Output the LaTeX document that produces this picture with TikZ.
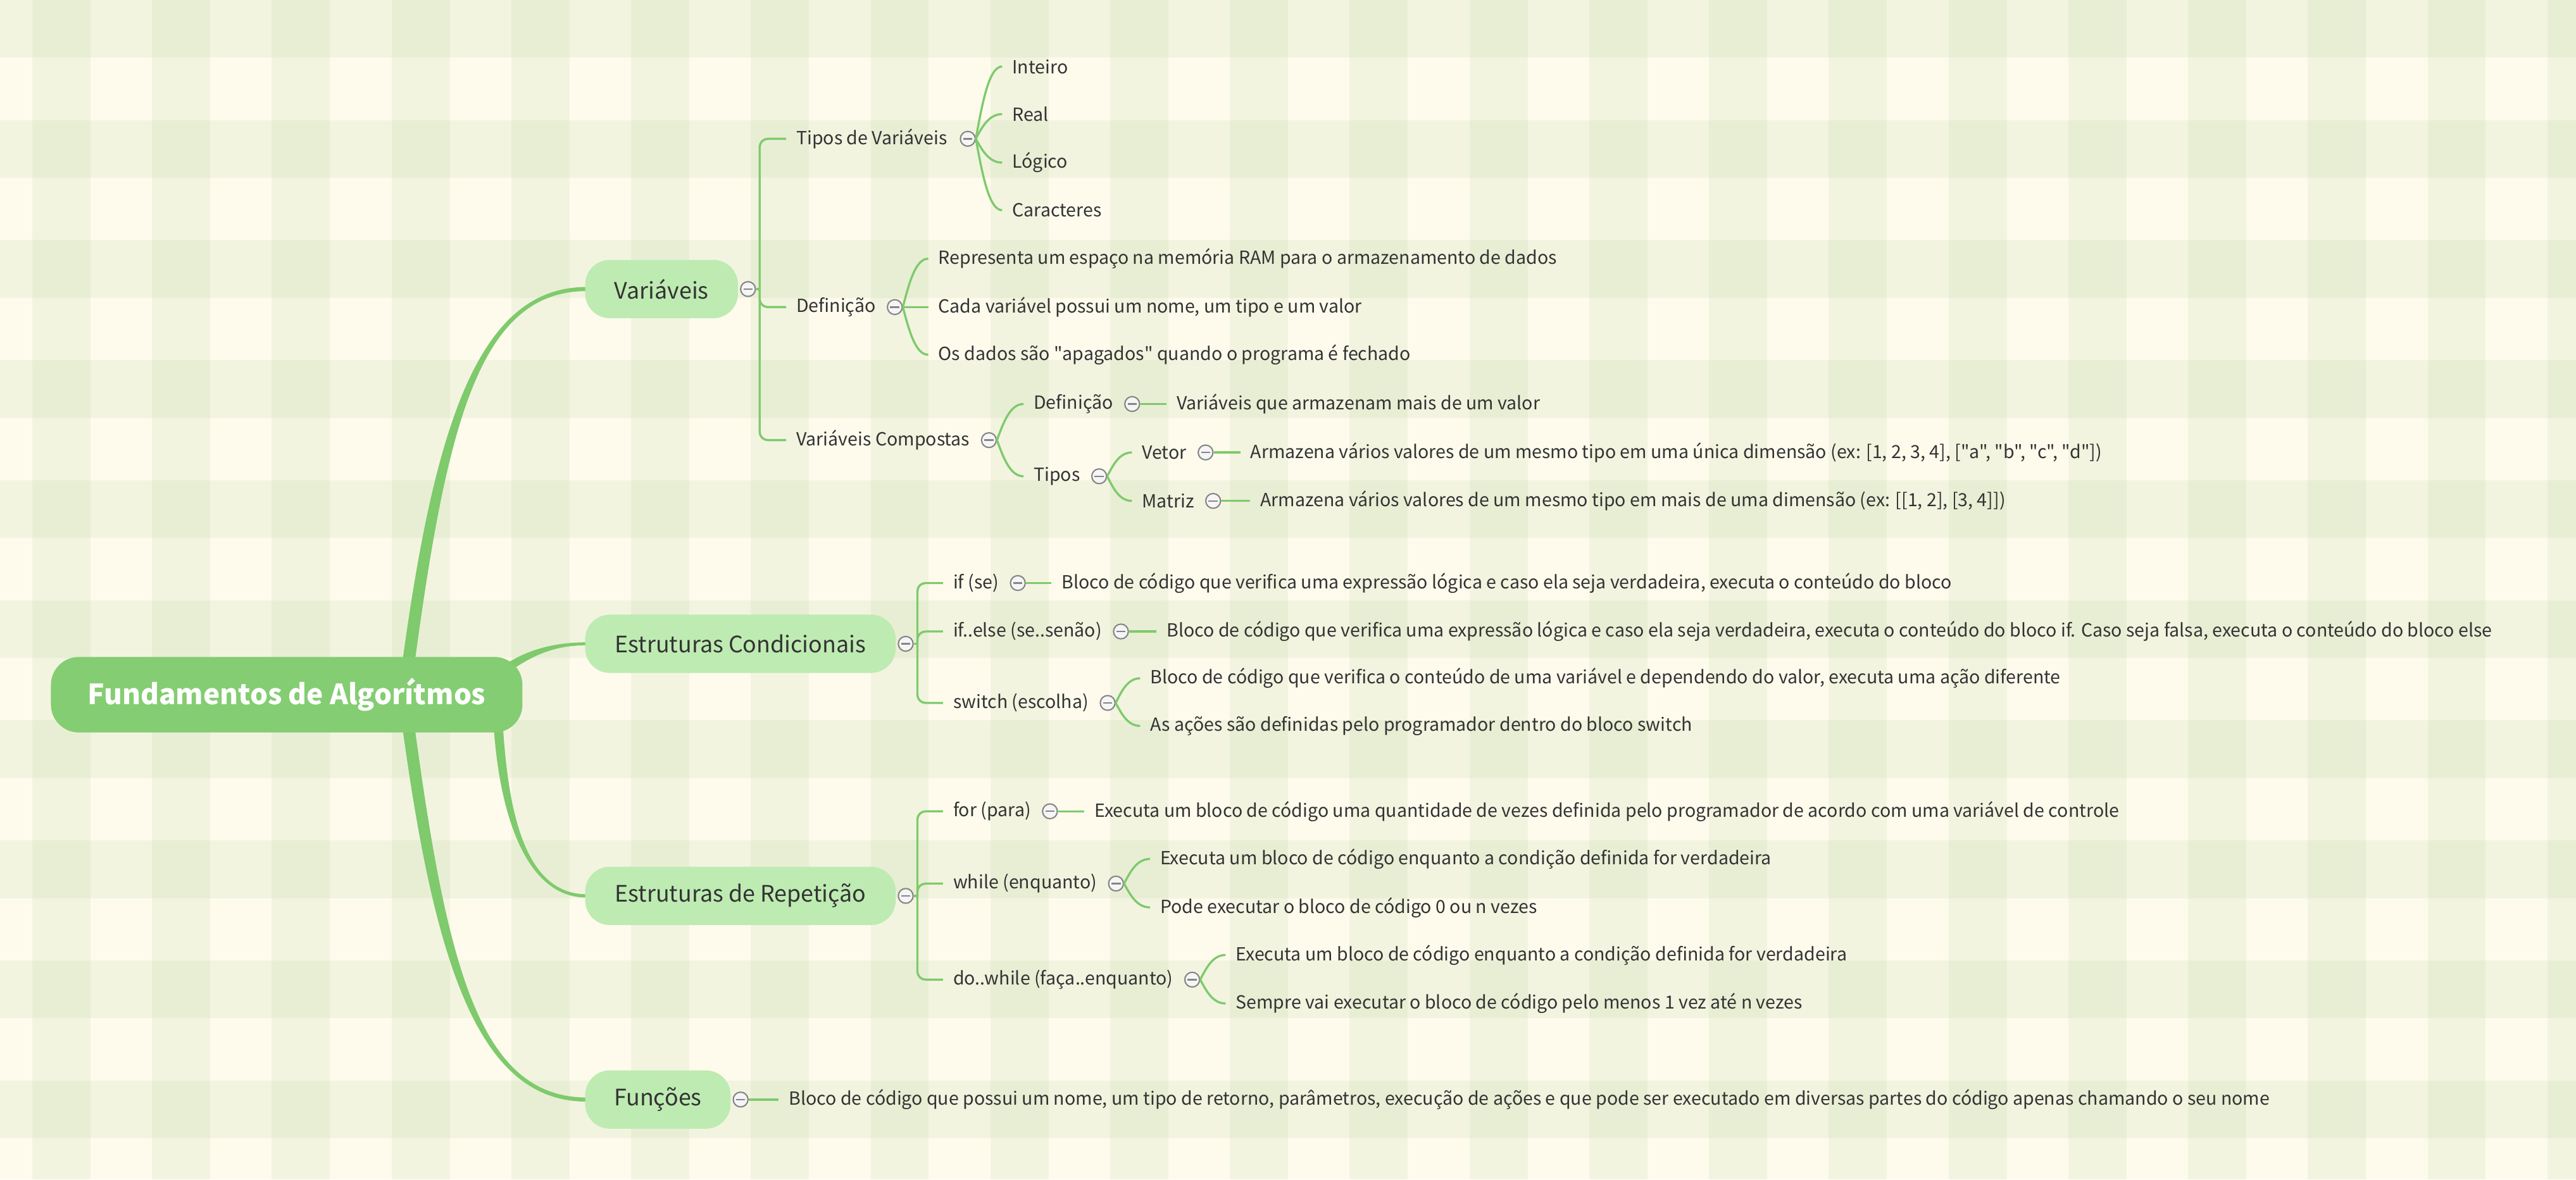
\documentclass[tikz,border=0pt]{standalone}
\usepackage{fontspec}
\setmainfont{Noto Sans CJK SC}[Ligatures=TeXOff]
\usetikzlibrary{calc}
\definecolor{cream}{HTML}{FEFBED}
\definecolor{stripe}{HTML}{90C070}
\definecolor{rootg}{HTML}{84CD72}
\definecolor{maing}{HTML}{BEEBB2}
\definecolor{lineg}{HTML}{7ECA6C}
\definecolor{txt}{HTML}{333333}
\definecolor{circg}{HTML}{858585}
\pgfdeclarelayer{back}
\pgfdeclarelayer{bg}
\pgfsetlayers{back,bg,main}
\newcommand{\taperbranch}[7]{%
 \fill[lineg] ($(#1)+(#5,#6)$) .. controls ($(#2)+(#5,#6)$) and ($(#3)+(0,#7)$) .. ($(#4)+(0,#7)$)
   -- ($(#4)-(0,#7)$) .. controls ($(#3)-(0,#7)$) and ($(#2)-(#5,#6)$) .. ($(#1)-(#5,#6)$) -- cycle;}
\begin{document}
\begin{tikzpicture}[x=1pt,y=-1pt,
  rootnode/.style={fill=rootg, rounded corners=17pt, minimum width=287pt, minimum height=46pt, text=white, font=\fontsize{17}{20}\selectfont\bfseries, inner sep=0pt},
  mainnode/.style={fill=maing, rounded corners=15pt, minimum height=35.5pt, text=txt, font=\fontsize{13.8}{16}\selectfont, inner sep=0pt, anchor=west},
  leaf/.style={anchor=west, text=txt, font=\fontsize{11}{13}\selectfont, inner xsep=6pt, inner ysep=1pt},
  circ/.style={circle, draw=circg, line width=0.8pt, fill=white!96!black, minimum size=9pt, inner sep=0pt, anchor=west,
    path picture={\draw[circg, line width=0.9pt] ([xshift=-2.8pt]path picture bounding box.center) -- ([xshift=2.8pt]path picture bounding box.center);}},
  conn/.style={draw=lineg, line width=1.3pt},
  curvy/.style={to path={let \p1=(\tikztostart), \p2=(\tikztotarget) in
     .. controls ({\x1+0.25*(\x2-\x1)},{\y1+0.5*(\y2-\y1)}) and ({\x1+0.5*(\x2-\x1)},{\y2}) .. (\tikztotarget)}}
]
\useasboundingbox (0,0) rectangle (1568,718.12);
\begin{pgfonlayer}{back}
\fill[cream] (0,0) rectangle (1568,718.12);
\foreach \i in {0,...,21} \fill[stripe, opacity=0.1] ({19.65+\i*72.9},0) rectangle ++(35.4,718.12);
\foreach \j in {0,...,9} \fill[stripe, opacity=0.1] (0,{\j*73.1}) rectangle ++(1568,35.2);
\end{pgfonlayer}

% root and main nodes
\node[rootnode] (root) at (174.5,423) {Fundamentos de Algorítmos};
\node[mainnode, minimum width=93pt] (var) at (356,176) {Variáveis};
\node[mainnode, minimum width=189pt] (cond) at (356,392) {Estruturas Condicionais};
\node[mainnode, minimum width=189pt] (rep) at (356,545.5) {Estruturas de Repetição};
\node[mainnode, minimum width=88.5pt] (fun) at (356,669.5) {Funções};

% main branches (tapered)
\coordinate (vb0) at ($(root.north west)+(217,10)$);
\coordinate (vb1) at ($(vb0)+(20,-150)$);
\coordinate (vb3) at ($(var.west)+(1,0)$);
\coordinate (vb2) at ($(vb3)+(-66,0)$);
\coordinate (fb0) at ($(root.south west)+(217,-10)$);
\coordinate (fb1) at ($(fb0)+(20,150)$);
\coordinate (fb3) at ($(fun.west)+(1,0)$);
\coordinate (fb2) at ($(fb3)+(-66,0)$);
\coordinate (rb0) at ($(root.south east)+(-15,-6)$);
\coordinate (rb1) at ($(rb0)+(3,50)$);
\coordinate (rb3) at ($(rep.west)+(1,0)$);
\coordinate (rb2) at ($(rb3)+(-39,0)$);
\coordinate (cb0) at ($(root.north east)+(-11,8)$);
\coordinate (cb1) at ($(cb0)+(13,-9)$);
\coordinate (cb3) at ($(cond.west)+(1,0)$);
\coordinate (cb2) at ($(cb3)+(-22,0)$);
\begin{pgfonlayer}{bg}
\taperbranch{vb0}{vb1}{vb2}{vb3}{3.7}{0.5}{1.25}
\taperbranch{fb0}{fb1}{fb2}{fb3}{-3.67}{0.49}{1.25}
\taperbranch{rb0}{rb1}{rb2}{rb3}{-2.8}{0.17}{1}
\taperbranch{cb0}{cb1}{cb2}{cb3}{-1.43}{-2.05}{-0.9}
\end{pgfonlayer}

% circles of main nodes
\node[circ] (cvar) at ([xshift=1pt]var.east) {};
\node[circ] (ccond) at ([xshift=1pt]cond.east) {};
\node[circ] (crep) at ([xshift=1pt]rep.east) {};
\node[circ] (cfun) at ([xshift=1pt]fun.east) {};

% ---------------- Variáveis ----------------
\node[leaf] (tipos) at (478.5,84.5) {Tipos de Variáveis};
\node[leaf] (defi) at (478.5,187) {Definição};
\node[leaf] (comp) at (478.5,268) {Variáveis Compostas};
\draw[conn] (cvar.east) -- ++(2.2,0) coordinate (vbar);
\foreach \t in {tipos,defi,comp} \draw[conn, rounded corners=5pt] (vbar) |- (\t.west);

\node[circ] (ctipos) at ([xshift=1.5pt]tipos.east) {};
\node[leaf] (inteiro) at (610,40.5) {Inteiro};
\node[leaf] (real) at (610,69.5) {Real};
\node[leaf] (logico) at (610,99) {Lógico};
\node[leaf] (carac) at (610,128) {Caracteres};
\foreach \t in {inteiro,real,logico,carac} \draw[conn] (ctipos.east) to[curvy] (\t.west);

\node[circ] (cdefi) at ([xshift=0.5pt]defi.east) {};
\node[leaf] (d1) at (565,157.5) {Representa um espaço na memória RAM para o armazenamento de dados};
\node[leaf] (d2) at (565,187) {Cada variável possui um nome, um tipo e um valor};
\node[leaf] (d3) at (565,216) {Os dados são "apagados" quando o programa é fechado};
\foreach \t in {d1,d2,d3} \draw[conn] (cdefi.east) to[curvy] (\t.west);

\node[circ] (ccomp) at ([xshift=0.5pt]comp.east) {};
\node[leaf] (cdef) at (623,246) {Definição};
\node[leaf] (ctip) at (623,290) {Tipos};
\foreach \t in {cdef,ctip} \draw[conn] (ccomp.east) to[curvy] (\t.west);
\node[circ] (ccdef) at ([xshift=0.5pt]cdef.east) {};
\node[leaf] (cdefc) at (710,246) {Variáveis que armazenam mais de um valor};
\draw[conn] (ccdef.east) -- (cdefc.west);
\node[circ] (cctip) at ([xshift=0.5pt]ctip.east) {};
\node[leaf] (vetor) at (689,275.5) {Vetor};
\node[leaf] (matriz) at (689,305) {Matriz};
\foreach \t in {vetor,matriz} \draw[conn] (cctip.east) to[curvy] (\t.west);
\node[circ] (cvetor) at ([xshift=0.5pt]vetor.east) {};
\node[leaf] (vetorc) at (755,275.5) {Armazena vários valores de um mesmo tipo em uma única dimensão (ex: [1, 2, 3, 4], ["a", "b", "c", "d"])};
\draw[conn] (cvetor.east) -- (vetorc.west);
\node[circ] (cmatriz) at ([xshift=0.5pt]matriz.east) {};
\node[leaf] (matrizc) at (761,305) {Armazena vários valores de um mesmo tipo em mais de uma dimensão (ex: [[1, 2], [3, 4]])};
\draw[conn] (cmatriz.east) -- (matrizc.west);

% ---------------- Estruturas Condicionais ----------------
\node[leaf] (if) at (574,355) {if (se)};
\node[leaf] (ifelse) at (574,384.5) {if..else (se..senão)};
\node[leaf] (switch) at (574,428) {switch (escolha)};
\draw[conn] (ccond.east) -- ++(2.2,0) coordinate (cbar);
\foreach \t in {if,ifelse,switch} \draw[conn, rounded corners=5pt] (cbar) |- (\t.west);
\node[circ] (cif) at ([xshift=0.5pt]if.east) {};
\node[leaf] (ifc) at (640,355) {Bloco de código que verifica uma expressão lógica e caso ela seja verdadeira, executa o conteúdo do bloco};
\draw[conn] (cif.east) -- (ifc.west);
\node[circ] (cifelse) at ([xshift=0.5pt]ifelse.east) {};
\node[leaf] (ifelsec) at (704,384.5) {Bloco de código que verifica uma expressão lógica e caso ela seja verdadeira, executa o conteúdo do bloco if. Caso seja falsa, executa o conteúdo do bloco else};
\draw[conn] (cifelse.east) -- (ifelsec.west);
\node[circ] (cswitch) at ([xshift=0.5pt]switch.east) {};
\node[leaf] (sw1) at (694,413) {Bloco de código que verifica o conteúdo de uma variável e dependendo do valor, executa uma ação diferente};
\node[leaf] (sw2) at (694,442) {As ações são definidas pelo programador dentro do bloco switch};
\foreach \t in {sw1,sw2} \draw[conn] (cswitch.east) to[curvy] (\t.west);

% ---------------- Estruturas de Repetição ----------------
\node[leaf] (for) at (574,494) {for (para)};
\node[leaf] (while) at (574,538) {while (enquanto)};
\node[leaf] (dowhile) at (574,596.5) {do..while (faça..enquanto)};
\draw[conn] (crep.east) -- ++(2.2,0) coordinate (rbar);
\foreach \t in {for,while,dowhile} \draw[conn, rounded corners=5pt] (rbar) |- (\t.west);
\node[circ] (cfor) at ([xshift=0.5pt]for.east) {};
\node[leaf] (forc) at (660,494) {Executa um bloco de código uma quantidade de vezes definida pelo programador de acordo com uma variável de controle};
\draw[conn] (cfor.east) -- (forc.west);
\node[circ] (cwhile) at ([xshift=0.5pt]while.east) {};
\node[leaf] (wh1) at (700,523) {Executa um bloco de código enquanto a condição definida for verdadeira};
\node[leaf] (wh2) at (700,552.5) {Pode executar o bloco de código 0 ou n vezes};
\foreach \t in {wh1,wh2} \draw[conn] (cwhile.east) to[curvy] (\t.west);
\node[circ] (cdowhile) at ([xshift=0.5pt]dowhile.east) {};
\node[leaf] (dw1) at (746,581.5) {Executa um bloco de código enquanto a condição definida for verdadeira};
\node[leaf] (dw2) at (746,611) {Sempre vai executar o bloco de código pelo menos 1 vez até n vezes};
\foreach \t in {dw1,dw2} \draw[conn] (cdowhile.east) to[curvy] (\t.west);

% ---------------- Funções ----------------
\node[leaf] (func) at (474,669.5) {Bloco de código que possui um nome, um tipo de retorno, parâmetros, execução de ações e que pode ser executado em diversas partes do código apenas chamando o seu nome};
\draw[conn] (cfun.east) -- (func.west);
\end{tikzpicture}
\end{document}
